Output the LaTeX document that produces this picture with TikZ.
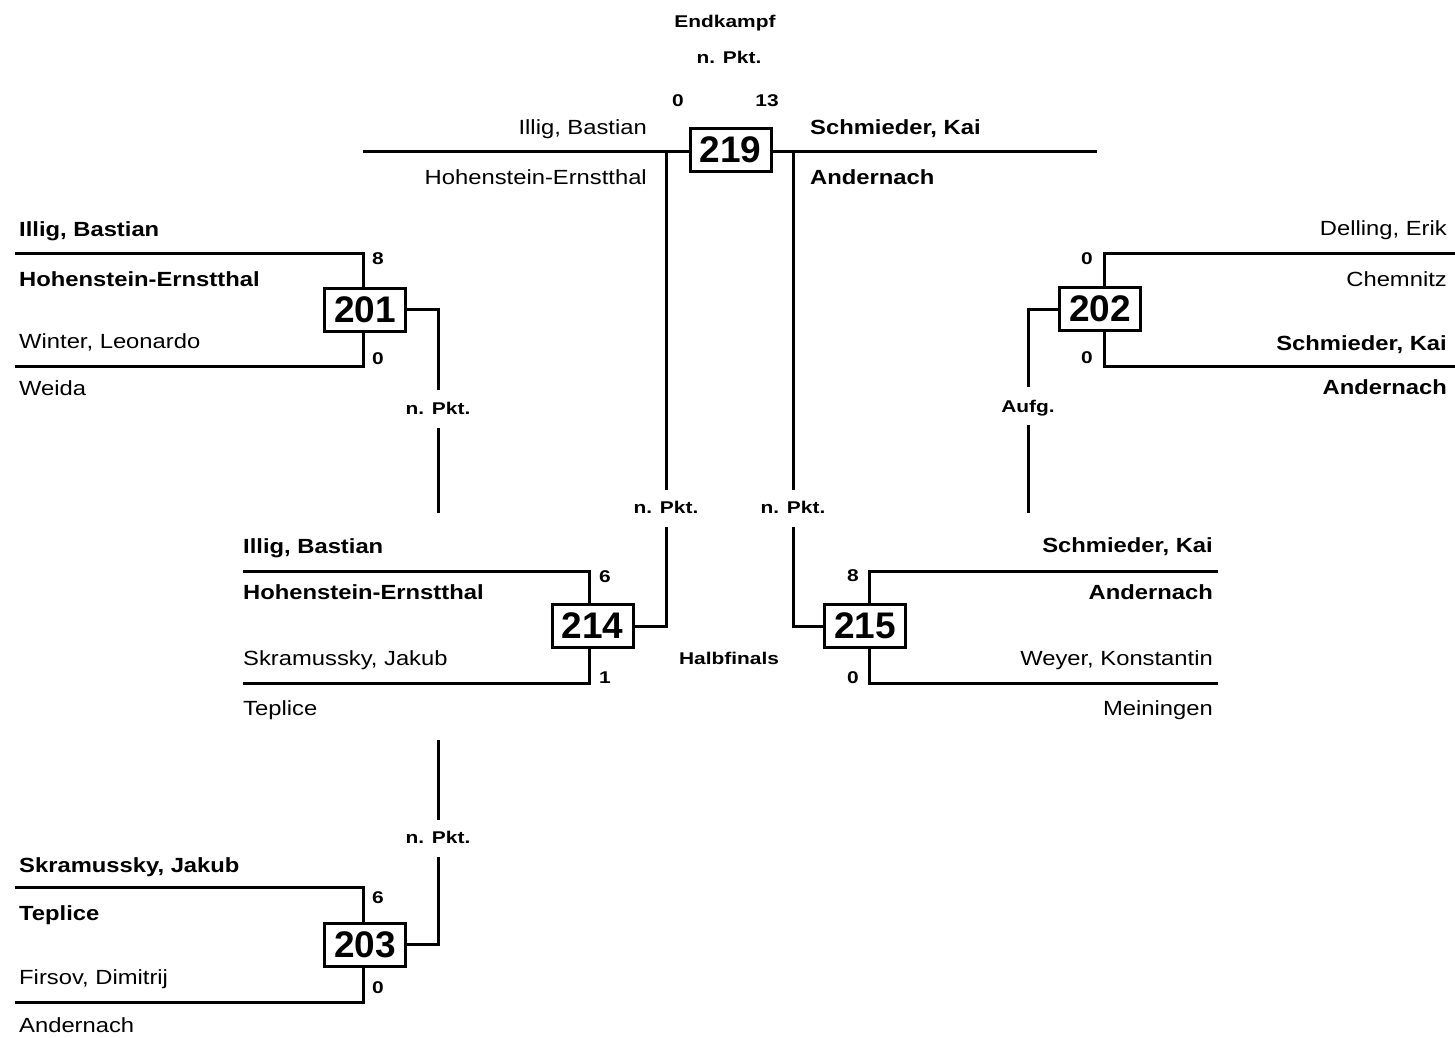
\documentclass[tikz,border=0pt]{standalone}
\usepackage{fontspec}
\newfontfamily\nmfont[FakeStretch=1.16]{Liberation Sans}
\newfontfamily\smfont[FakeStretch=1.23]{Liberation Sans}
\newfontfamily\bxfont{Liberation Sans}
\tikzset{
  nm/.style={inner sep=0pt, font=\nmfont\fontsize{20.5}{24}\selectfont},
  nmb/.style={inner sep=0pt, font=\nmfont\bfseries\fontsize{20.5}{24}\selectfont},
  lbl/.style={inner sep=0pt, anchor=base, font=\smfont\bfseries\fontsize{17}{20}\selectfont},
  mbox/.style={draw, line width=3pt, fill=white, minimum width=81pt, minimum height=43pt, inner sep=0pt, font=\bxfont\bfseries\fontsize{37}{40}\selectfont},
  ln/.style={line width=3pt}
}
\begin{document}
\begin{tikzpicture}[x=1pt,y=-1pt]
\useasboundingbox (0,0) rectangle (1455,1037);
\fill[white] (0,0) rectangle (1455,1037);

% ---------- final 219 ----------
\node[mbox] (b219) at (730.5,150) {219};
\node[lbl] (t219a) at (725,27) {Endkampf};
\node[lbl] (t219b) at (729,63) {n. Pkt.};
\node[lbl] (s219a) at (678,106) {0};
\node[lbl] (s219b) at (767,106) {13};
\node[nm, anchor=base east] (n219a) at (647,134) {Illig, Bastian};
\node[nm, anchor=base east] (c219a) at (647,184) {Hohenstein-Ernstthal};
\node[nmb, anchor=base west] (n219b) at (810,134) {Schmieder, Kai};
\node[nmb, anchor=base west] (c219b) at (810,184) {Andernach};
\coordinate (L219) at (363,151);
\coordinate (R219) at (1097,151);
\draw[ln] (L219) -- (b219.west |- L219);
\draw[ln] (b219.east |- R219) -- (R219);
\coordinate (v219a) at (666,151);
\coordinate (v219b) at (793,151);
\node[lbl] (p214) at (666,513) {n. Pkt.};
\node[lbl] (p215) at (793,513) {n. Pkt.};
\draw[ln] (v219a) -- (666,490);
\draw[ln] (v219b) -- (793,490);

% ---------- 201 ----------
\node[mbox] (b201) at (365,309.5) {201};
\node[nmb, anchor=base west] (n201a) at (19,236) {Illig, Bastian};
\node[nmb, anchor=base west] (c201a) at (19,286) {Hohenstein-Ernstthal};
\node[nm, anchor=base west] (n201b) at (19,348) {Winter, Leonardo};
\node[nm, anchor=base west] (c201b) at (19,395) {Weida};
\node[lbl] (s201a) at (378,264) {8};
\node[lbl] (s201b) at (378,364) {0};
\draw[ln] (15,253) -| (363,288);
\draw[ln] (15,366) -| (363,331);
\node[lbl] (p201) at (438,414) {n. Pkt.};
\draw[ln] (b201.east) -| (438,390);
\draw[ln] (438,428) -- (438,513);

% ---------- 203 ----------
\node[mbox] (b203) at (365,944.5) {203};
\node[nmb, anchor=base west] (n203a) at (19,872) {Skramussky, Jakub};
\node[nmb, anchor=base west] (c203a) at (19,920) {Teplice};
\node[nm, anchor=base west] (n203b) at (19,984) {Firsov, Dimitrij};
\node[nm, anchor=base west] (c203b) at (19,1032) {Andernach};
\node[lbl] (s203a) at (378,903) {6};
\node[lbl] (s203b) at (378,993) {0};
\draw[ln] (15,887) -| (363,923);
\draw[ln] (15,1002) -| (363,966);
\node[lbl] (p203) at (438,843) {n. Pkt.};
\draw[ln] (b203.east) -| (438,857);
\draw[ln] (438,820) -- (438,740);

% ---------- 214 ----------
\node[mbox] (b214) at (592.5,626) {214};
\node[nmb, anchor=base west] (n214a) at (243,553) {Illig, Bastian};
\node[nmb, anchor=base west] (c214a) at (243,599) {Hohenstein-Ernstthal};
\node[nm, anchor=base west] (n214b) at (243,665) {Skramussky, Jakub};
\node[nm, anchor=base west] (c214b) at (243,715) {Teplice};
\node[lbl] (s214a) at (605,582) {6};
\node[lbl] (s214b) at (605,683) {1};
\draw[ln] (243,571) -| (589,604.5);
\draw[ln] (243,683) -| (589,647.5);
\draw[ln] (b214.east) -| (666,527);
\node[lbl] (half) at (729,664) {Halbfinals};

% ---------- 215 ----------
\node[mbox] (b215) at (865,626) {215};
\node[nmb, anchor=base east] (n215a) at (1213,552) {Schmieder, Kai};
\node[nmb, anchor=base east] (c215a) at (1213,599) {Andernach};
\node[nm, anchor=base east] (n215b) at (1213,665) {Weyer, Konstantin};
\node[nm, anchor=base east] (c215b) at (1213,715) {Meiningen};
\node[lbl] (s215a) at (853,581) {8};
\node[lbl] (s215b) at (853,683) {0};
\draw[ln] (1218,571) -| (869,604.5);
\draw[ln] (1218,683) -| (869,647.5);
\draw[ln] (b215.west) -| (793,527);

% ---------- 202 ----------
\node[mbox] (b202) at (1100,309) {202};
\node[nm, anchor=base east] (n202a) at (1447,235) {Delling, Erik};
\node[nm, anchor=base east] (c202a) at (1447,286) {Chemnitz};
\node[nmb, anchor=base east] (n202b) at (1447,350) {Schmieder, Kai};
\node[nmb, anchor=base east] (c202b) at (1447,394) {Andernach};
\node[lbl] (s202a) at (1087,264) {0};
\node[lbl] (s202b) at (1087,363) {0};
\draw[ln] (1455,253) -| (1104,287.5);
\draw[ln] (1455,366) -| (1104,330.5);
\node[lbl] (p202) at (1028,412) {Aufg.};
\draw[ln] (b202.west) -| (1028,387);
\draw[ln] (1028,425) -- (1028,513);
\end{tikzpicture}
\end{document}
